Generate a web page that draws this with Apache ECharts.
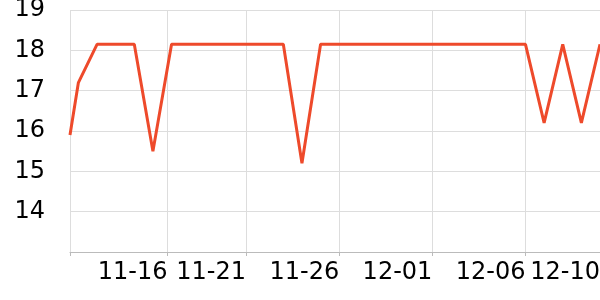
<!DOCTYPE html>
<html>
<head>
<meta charset="utf-8">
<script src="https://cdn.jsdelivr.net/npm/echarts@6/dist/echarts.min.js"></script>
<style>
html,body{margin:0;padding:0;background:#fff;}
#chart{width:600px;height:300px;}
</style>
</head>
<body>
<div id="chart"></div>
<script>
// ---- data ----
var dates = ['2023-11-11 13:10','2023-11-12','2023-11-13','2023-11-14','2023-11-15','2023-11-16','2023-11-17',
  '2023-11-18','2023-11-19','2023-11-20','2023-11-21','2023-11-22','2023-11-23','2023-11-24','2023-11-25',
  '2023-11-26','2023-11-27','2023-11-28','2023-11-29','2023-11-30','2023-12-01','2023-12-02','2023-12-03',
  '2023-12-04','2023-12-05','2023-12-06','2023-12-07','2023-12-08','2023-12-09','2023-12-10'];
var values = [15.9,17.2,18.15,18.15,18.15,15.5,18.15,
  18.15,18.15,18.15,18.15,18.15,18.15,15.2,18.15,
  18.15,18.15,18.15,18.15,18.15,18.15,18.15,18.15,
  18.15,18.15,18.15,16.2,18.15,16.2,18.15];
var xMin = '2023-11-11 13:10';
var xMax = '2023-12-10';
var xTickValues = ['2023-11-11 13:10','2023-11-16 18:50','2023-11-21','2023-11-26','2023-12-01','2023-12-06'];
var xLabelValues = ['2023-11-16 18:50','2023-11-21','2023-11-26','2023-12-01','2023-12-06','2023-12-10'];
var yTicks = [13,14,15,16,17,18,19];

function ts(s){ return echarts.time.parse(s).getTime(); }

var chart = echarts.init(document.getElementById('chart'), null, {renderer:'canvas'});
chart.setOption({
  animation:false,
  grid:{left:70,right:0,top:10,bottom:48,containLabel:false,outerBoundsMode:'none'},
  xAxis:{
    type:'value',
    min:ts(xMin), max:ts(xMax),
    axisLine:{show:true,lineStyle:{color:'#bbbbbb',width:1}},
    axisTick:{show:true,length:4,lineStyle:{color:'#bbbbbb'},customValues:xTickValues.map(ts)},
    splitLine:{show:true,lineStyle:{color:'#dddddd',width:1}},
    axisLabel:{
      customValues:xLabelValues.map(ts),
      align:'right',
      margin:9,
      fontFamily:'DejaVu Sans',fontSize:24,color:'#000',
      hideOverlap:false,
      showMinLabel:true, showMaxLabel:true,
      formatter:function(v){ return echarts.time.format(v,'{MM}-{dd}',false); }
    }
  },
  yAxis:{
    type:'value',
    min:yTicks[0], max:yTicks[yTicks.length-1], interval:1,
    axisLine:{show:false},
    axisTick:{show:false},
    splitLine:{show:true,lineStyle:{color:'#dddddd',width:1}},
    axisLabel:{showMinLabel:false,margin:25,fontFamily:'DejaVu Sans',fontSize:24,color:'#000'}
  },
  series:[{
    type:'line',
    data:dates.map(function(d,i){return [ts(d),values[i]];}),
    showSymbol:false,
    symbol:'none',
    lineStyle:{color:'#ee4a2b',width:3},
    itemStyle:{color:'#ee4a2b'}
  }]
});
</script>
</body>
</html>
